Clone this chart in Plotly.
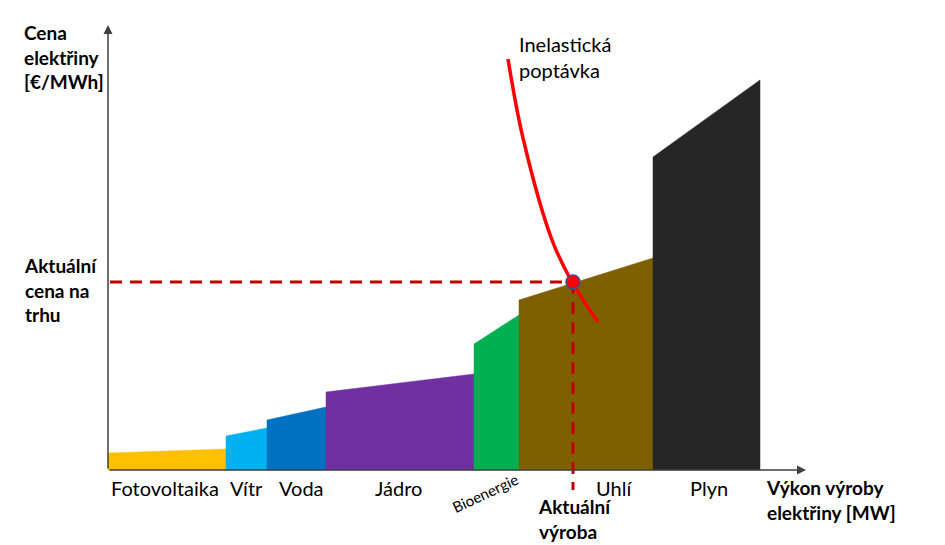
import plotly.graph_objects as go

# ---- data (arbitrary units: capacity in GW-like units, price in €/MWh-like units)
technologies = ["Fotovoltaika", "Vítr", "Voda", "Jádro", "Bioenergie", "Uhlí", "Plyn"]
capacity = [11.8, 4.1, 5.9, 14.8, 4.5, 13.4, 10.7]
price_start = [1.7, 3.4, 5.0, 7.8, 12.6, 17.0, 31.3]
price_end = [2.1, 4.2, 6.3, 9.6, 15.5, 21.2, 39.0]
colors = ["#FFC000", "#00B0F0", "#0070C0", "#7030A0", "#00B050", "#7F6000", "#262626"]
label_x = [5.7, 13.8, 19.3, 29.0, 37.7, 50.6, 60.1]

demand_q = [40.0, 41.5, 44.4, 46.4, 49.0]
demand_p = [41.1, 33.2, 23.0, 18.8, 14.8]
clearing_q = 46.5
clearing_p = 18.8

FONT = "Lato"

fig = go.Figure()

x0 = 0.0
for name, w, ps, pe, c in zip(technologies, capacity, price_start, price_end, colors):
    x1 = x0 + w
    fig.add_trace(go.Scatter(
        x=[x0, x0, x1, x1, x0], y=[0, ps, pe, 0, 0],
        fill="toself", fillcolor=c, mode="lines",
        line=dict(color=c, width=0.5), hoverinfo="skip", showlegend=False))
    x0 = x1

# dashed guide lines
fig.add_trace(go.Scatter(x=[0.2, clearing_q], y=[clearing_p, clearing_p], mode="lines",
                         line=dict(color="#C00000", width=3, dash="12px,8px"),
                         hoverinfo="skip", showlegend=False))
fig.add_trace(go.Scatter(x=[clearing_q, clearing_q], y=[clearing_p, -2.0], mode="lines",
                         line=dict(color="#C00000", width=3, dash="12px,8px"),
                         hoverinfo="skip", showlegend=False))

# demand curve
fig.add_trace(go.Scatter(x=demand_q, y=demand_p, mode="lines",
                         line=dict(color="#FF0000", width=3.5, shape="spline"),
                         hoverinfo="skip", showlegend=False))
fig.add_trace(go.Scatter(x=[clearing_q], y=[clearing_p], mode="markers",
                         marker=dict(color="#FF0000", size=14,
                                     line=dict(color="#2F5597", width=1.5)),
                         hoverinfo="skip", showlegend=False))

ann = []
# axes arrows
ann.append(dict(x=0, y=44.5, ax=0, ay=0, xref="x", yref="y", axref="x", ayref="y",
                showarrow=True, arrowhead=2, arrowsize=1.2, arrowwidth=1.5,
                arrowcolor="#404040", text=""))
ann.append(dict(x=69.8, y=0, ax=0, ay=0, xref="x", yref="y", axref="x", ayref="y",
                showarrow=True, arrowhead=2, arrowsize=1.2, arrowwidth=1.5,
                arrowcolor="#404040", text=""))

# category labels
for name, lx in zip(technologies, label_x):
    if name == "Bioenergie":
        ann.append(dict(x=lx, y=-2.3, xref="x", yref="y", text=name, showarrow=False,
                        textangle=-25, font=dict(family=FONT, size=15, color="#000000")))
    else:
        ann.append(dict(x=lx, y=-1.75, xref="x", yref="y", text=name, showarrow=False,
                        font=dict(family=FONT, size=20, color="#000000")))

bold = dict(family=FONT, size=19, color="#000000")
ann.append(dict(x=-8.6, y=45.1, xref="x", yref="y", text="<b>Cena<br>elektřiny<br>[€/MWh]</b>",
                showarrow=False, xanchor="left", yanchor="top", align="left", font=bold))
ann.append(dict(x=-8.6, y=21.8, xref="x", yref="y", text="<b>Aktuální<br>cena na<br>trhu</b>",
                showarrow=False, xanchor="left", yanchor="top", align="left", font=bold))
ann.append(dict(x=42.8, y=-2.3, xref="x", yref="y", text="<b>Aktuální<br>výroba</b>",
                showarrow=False, xanchor="left", yanchor="top", align="left", font=bold))
ann.append(dict(x=65.6, y=-0.4, xref="x", yref="y", text="<b>Výkon výroby<br>elektřiny [MW]</b>",
                showarrow=False, xanchor="left", yanchor="top", align="left", font=bold))
ann.append(dict(x=40.9, y=44.0, xref="x", yref="y", text="Inelastická<br>poptávka",
                showarrow=False, xanchor="left", yanchor="top", align="left",
                font=dict(family=FONT, size=20, color="#000000")))

fig.update_layout(
    width=937, height=537,
    margin=dict(l=0, r=0, t=0, b=0),
    paper_bgcolor="white", plot_bgcolor="white",
    xaxis=dict(range=[-10.0, 83.7], visible=False, fixedrange=True),
    yaxis=dict(range=[-7.5, 46.2], visible=False, fixedrange=True),
    annotations=ann,
    showlegend=False,
)

fig.write_html("out.html")
